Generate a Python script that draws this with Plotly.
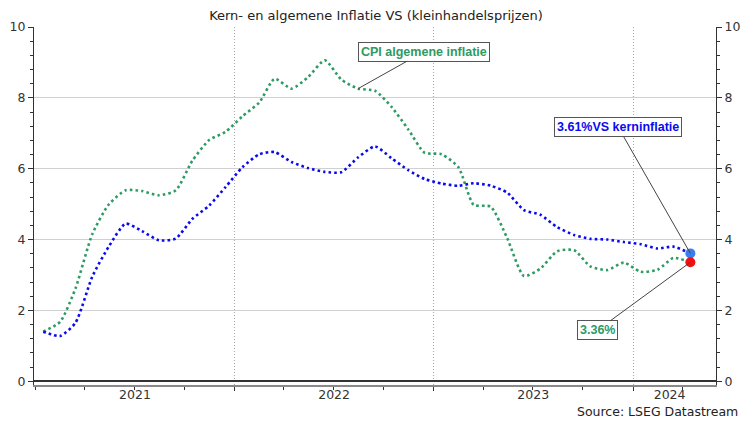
import plotly.graph_objects as go

# Monthly data (plotted mid-month)
months = [f"{y}-{m:02d}-15" for y in range(2021, 2025) for m in range(1, 13)][:40]

cpi = [1.40, 1.68, 2.62, 4.16, 4.99, 5.39, 5.37, 5.25, 5.39, 6.22, 6.81, 7.04,
       7.48, 7.87, 8.54, 8.26, 8.58, 9.06, 8.52, 8.26, 8.20, 7.75, 7.11, 6.45,
       6.41, 6.04, 4.98, 4.93, 4.05, 2.97, 3.18, 3.67, 3.70, 3.24, 3.14, 3.35,
       3.09, 3.15, 3.48, 3.36]
core = [1.40, 1.28, 1.65, 2.96, 3.80, 4.45, 4.24, 3.98, 4.03, 4.58, 4.96, 5.48,
        6.04, 6.41, 6.47, 6.19, 6.02, 5.91, 5.90, 6.32, 6.63, 6.30, 5.96, 5.71,
        5.58, 5.52, 5.59, 5.52, 5.33, 4.83, 4.70, 4.35, 4.13, 4.02, 4.00, 3.93,
        3.87, 3.75, 3.80, 3.61]

year_labels = ["2021", "2022", "2023", "2024"]
year_label_pos = ["2021-07-02", "2022-07-02", "2023-07-02", "2024-03-08"]
year_bounds = ["2022-01-01", "2023-01-01", "2024-01-01"]
quarter_ticks = ["2021-01-01", "2021-04-01", "2021-07-01", "2021-10-01",
                 "2022-04-01", "2022-07-01", "2022-10-01",
                 "2023-04-01", "2023-07-01", "2023-10-01", "2024-04-01"]
y_ticks = [0, 2, 4, 6, 8, 10]

title = "Kern- en algemene Inflatie VS (kleinhandelsprijzen)"
source = "Source: LSEG Datastream"

GREEN = "#2e9a64"
BLUE = "#0a0af0"
FONT = "DejaVu Sans"
BOLD = "Liberation Sans"

# page body has an 8px margin: figure is 744x415 so it ends at 752x423
W, H = 744, 415

fig = go.Figure()
fig.add_trace(go.Scatter(x=months, y=cpi, mode="lines", line=dict(color=GREEN, width=2.6, dash="2.6px,3px", shape="spline", smoothing=0.6),
                         showlegend=False, hoverinfo="skip"))
fig.add_trace(go.Scatter(x=months, y=core, mode="lines", line=dict(color=BLUE, width=2.6, dash="2.6px,3px", shape="spline", smoothing=0.6),
                         showlegend=False, hoverinfo="skip"))
fig.add_trace(go.Scatter(x=[months[-1]], y=[core[-1]], mode="markers", marker=dict(color="#3b7cf2", size=10),
                         showlegend=False, hoverinfo="skip"))
fig.add_trace(go.Scatter(x=[months[-1]], y=[cpi[-1]], mode="markers", marker=dict(color="#f01010", size=10),
                         showlegend=False, hoverinfo="skip"))
# invisible trace to activate the secondary axes
fig.add_trace(go.Scatter(x=[months[0]], y=[cpi[0]], xaxis="x2", yaxis="y2", mode="markers",
                         marker=dict(opacity=0), showlegend=False, hoverinfo="skip"))

xrange = ["2020-12-29", "2024-06-01"]
yrange = [-0.105, 10]

fig.update_layout(
    width=W, height=H,
    margin=dict(l=26, r=36, t=19, b=38, autoexpand=False),
    paper_bgcolor="white", plot_bgcolor="white",
    font=dict(family=FONT, size=12.5, color="#333"),
    title=dict(text=title, x=368 / W, xref="container", y=1 - 7 / H, yref="container",
               xanchor="center", yanchor="middle", font=dict(family=FONT, size=13, color="#222")),
    xaxis=dict(type="date", range=xrange, tickmode="array", tickvals=year_bounds, ticktext=["", "", ""],
               ticks="outside", ticklen=4, tickcolor="#333", tickwidth=1, automargin=False,
               showgrid=True, gridcolor="#a8a8a8", gridwidth=1, griddash="1px,2px",
               showline=True, linecolor="#8a8a8a", linewidth=2, zeroline=False,
               minor=dict(tickmode="array", tickvals=quarter_ticks, ticks="outside", ticklen=3,
                          tickcolor="#333", tickwidth=1, showgrid=False)),
    xaxis2=dict(type="date", overlaying="x", matches="x", range=xrange, side="bottom", anchor="y",
                tickmode="array", tickvals=year_label_pos, ticktext=year_labels, ticks="",
                showgrid=False, showline=False, zeroline=False, automargin=False,
                tickfont=dict(family=FONT, size=12.5, color="#333")),
    yaxis=dict(range=yrange, tickmode="array", tickvals=y_ticks, ticks="outside", ticklen=5,
               tickcolor="#333", showgrid=True, gridcolor="#d0d0d0", gridwidth=1,
               showline=True, linecolor="#333", linewidth=1, automargin=False,
               zeroline=True, zerolinecolor="#333", zerolinewidth=1.5,
               minor=dict(dtick=0.4, tick0=0, ticks="outside", ticklen=3, tickcolor="#333", showgrid=False)),
    yaxis2=dict(range=yrange, overlaying="y", matches="y", side="right", anchor="x",
                tickmode="array", tickvals=y_ticks, ticks="outside", ticklen=5, tickcolor="#333",
                showgrid=False, showline=True, linecolor="#333", linewidth=1, zeroline=False,
                automargin=False,
                minor=dict(dtick=0.4, tick0=0, ticks="outside", ticklen=3, tickcolor="#333", showgrid=False)),
)

ann_common = dict(showarrow=True, arrowhead=0, arrowwidth=1, arrowcolor="#444",
                  axref="pixel", ayref="pixel", bordercolor="#555", borderwidth=1,
                  borderpad=2, bgcolor="white")
fig.add_annotation(x="2022-08-15", y=cpi[19], ax=66, ay=-37, text="<b>CPI algemene inflatie</b>",
                   font=dict(family=BOLD, size=12.5, color=GREEN), **ann_common)
fig.add_annotation(x=months[-1], y=core[-1], ax=-72, ay=-126, text="<b>3.61%VS kerninflatie</b>",
                   font=dict(family=BOLD, size=12.5, color=BLUE), **ann_common)
fig.add_annotation(x=months[-1], y=cpi[-1], ax=-93, ay=68, text="<b>3.36%</b>",
                   font=dict(family=BOLD, size=12.5, color=GREEN), **ann_common)
fig.add_annotation(x=1.035, y=-0.075, xref="paper", yref="paper", xanchor="right", yanchor="middle",
                   text=source, showarrow=False, font=dict(family=FONT, size=12.5, color="#222"))

fig.write_html("out.html")
